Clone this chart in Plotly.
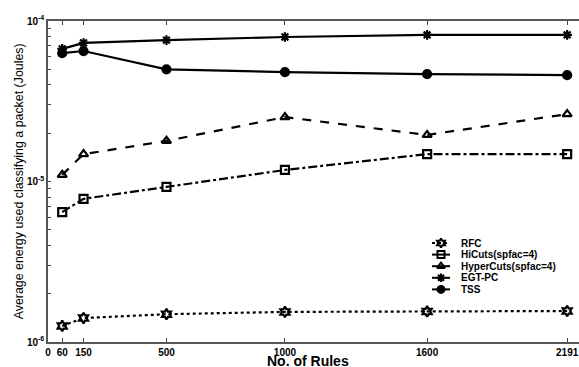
import plotly.graph_objects as go

rules = [60, 150, 500, 1000, 1600, 2191]
rfc = [1.26e-6, 1.41e-6, 1.49e-6, 1.54e-6, 1.55e-6, 1.56e-6]
hicuts = [6.45e-6, 7.8e-6, 9.25e-6, 1.18e-5, 1.48e-5, 1.48e-5]
hypercuts = [1.1e-5, 1.48e-5, 1.79e-5, 2.52e-5, 1.95e-5, 2.63e-5]
egtpc = [6.7e-5, 7.3e-5, 7.6e-5, 7.95e-5, 8.2e-5, 8.2e-5]
tss = [6.3e-5, 6.5e-5, 5.0e-5, 4.8e-5, 4.67e-5, 4.6e-5]

x_ticks = [0, 60, 150, 500, 1000, 1600, 2191]
series_names = ["RFC", "HiCuts(spfac=4)", "HyperCuts(spfac=4)", "EGT-PC", "TSS"]
series_vals = [rfc, hicuts, hypercuts, egtpc, tss]
dashes = ["dot", "dashdot", "dash", "solid", "solid"]
symbols = ["hexagram-open", "square-open", "triangle-up-open", "asterisk-open", "circle"]

fig = go.Figure()
for name, vals, dash, sym in zip(series_names, series_vals, dashes, symbols):
    fig.add_trace(go.Scatter(
        x=rules, y=vals, name=name, mode="lines+markers", showlegend=False,
        line=dict(color="black", width=2.2, dash=dash),
        marker=dict(symbol=sym, size=8, color="black", line=dict(color="black", width=2.2)),
    ))

# custom compact legend on an overlay axis measured in pixels
L, R, T, B = 48, 579, 21, 342
row0, row_step = 243, 11.6
for i, (name, dash, sym) in enumerate(zip(series_names, dashes, symbols)):
    yy = row0 + i * row_step
    fig.add_trace(go.Scatter(
        x=[432, 450], y=[yy, yy], xaxis="x2", yaxis="y2", mode="lines", showlegend=False,
        line=dict(color="black", width=2, dash="dot" if dash == "dot" else "solid"), hoverinfo="skip"))
    fig.add_trace(go.Scatter(
        x=[441], y=[yy], xaxis="x2", yaxis="y2", mode="markers", showlegend=False,
        marker=dict(symbol=sym, size=7, color="black", line=dict(color="black", width=2)), hoverinfo="skip"))
    fig.add_annotation(text=name, xref="x2", yref="y2", x=459, y=yy, xanchor="left", yanchor="middle",
                       showarrow=False, font=dict(size=10, weight="bold"))

# log ticks: decades labelled, minors unlabelled
yvals, ytext = [], []
for e in (-6, -5):
    for m in range(1, 10):
        yvals.append(m * 10 ** e)
        ytext.append(f"10<sup>{e}</sup>" if m == 1 else "")
yvals.append(1e-4)
ytext.append("10<sup>-4</sup>")

font = "Liberation Sans, Arial, sans-serif"
fig.update_layout(
    width=579, height=367,
    margin=dict(l=L, r=579 - R, t=T, b=367 - B, autoexpand=False),
    paper_bgcolor="white", plot_bgcolor="white",
    font=dict(family=font, color="black", size=10),
    showlegend=False,
    xaxis=dict(
        range=[0, 2241], tickvals=x_ticks, ticktext=[str(v) for v in x_ticks],
        ticks="inside", ticklen=4, tickcolor="#444", mirror="ticks", automargin=False,
        showline=True, linecolor="#555", linewidth=1.5, showgrid=False, zeroline=False,
        tickfont=dict(size=10, family=font, weight="bold"),
    ),
    yaxis=dict(
        type="log", range=[-6, -4], tickvals=yvals, ticktext=ytext,
        ticks="inside", ticklen=3, tickcolor="#444", mirror=False, automargin=False,
        showline=True, linecolor="#555", linewidth=1.5, showgrid=False, zeroline=False,
        tickfont=dict(size=10, family=font, weight="bold"),
    ),
    xaxis2=dict(overlaying="x", range=[L, R], visible=False, fixedrange=True, automargin=False),
    yaxis2=dict(overlaying="y", range=[B, T], visible=False, fixedrange=True, automargin=False),
)
fig.add_annotation(text="No. of Rules", xref="paper", yref="paper", x=0.49, y=-0.058,
                   xanchor="center", yanchor="middle", showarrow=False,
                   font=dict(size=14, family=font, weight="bold"))
fig.add_annotation(text="Average energy used classifying a packet (Joules)", xref="paper", yref="paper",
                   x=-0.055, y=0.5, xanchor="center", yanchor="middle", textangle=-90, showarrow=False,
                   font=dict(size=12.4, family=font))
fig.write_html("out.html", config={"displayModeBar": False},
               post_script="document.body.style.margin='0';document.body.style.overflow='hidden';")
